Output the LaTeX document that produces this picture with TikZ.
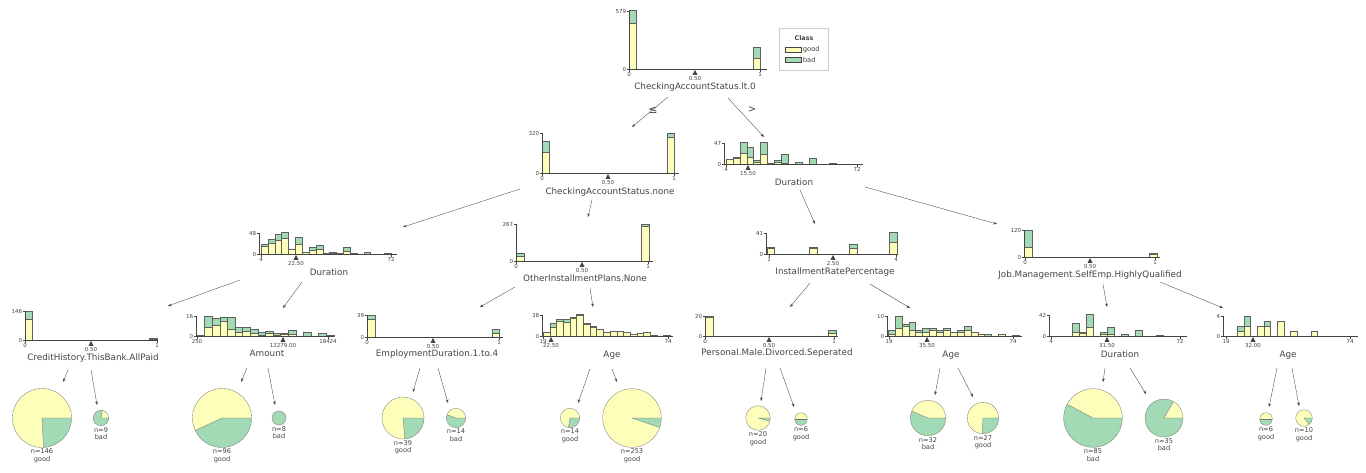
\documentclass[tikz,border=0pt]{standalone}
\usepackage{fontspec}
\setmainfont{DejaVu Sans}
\usepackage{xcolor}
\usepackage{tikz}
\usetikzlibrary{positioning, arrows.meta}

\definecolor{goodc}{HTML}{FEFEBB}
\definecolor{badc}{HTML}{A1DAB4}
\definecolor{inkc}{HTML}{444443}

% one stacked bar: x, base y, width, total height, good height
\newcommand{\histbar}[5]{%
  \fill[badc] (#1,#2) rectangle ++(#3,-#4);
  \fill[goodc] (#1,#2) rectangle ++(#3,-#5);
  \draw[baredge] (#1,#2) rectangle ++(#3,-#4);
  \draw[baredge] (#1,#2-#5) -- ++(#3,0);
}
% row of bars: x start, base y, bar width, list of total/good
\newcommand{\histrow}[4]{%
  \foreach \ntot/\ngood [count=\i from 0] in {#4} {
    \histbar{#1+\i*#3}{#2}{#3}{\ntot}{\ngood}
  }
}
% axes: name, x left, x right, base y, top y, top count
\newcommand{\histaxes}[6]{%
  \draw[axis] (#2,#5) -- (#2,#4) -- (#3,#4);
  \draw[axis] (#2,#5) -- ++(-2,0) node[tick, left] (#1-ytop) {#6};
  \draw[axis] (#2,#4) -- ++(-2,0) node[tick, left] (#1-ybot) {0};
}
% x tick: name, x, base y, text
\newcommand{\xtick}[4]{%
  \draw[axis] (#2,#3) -- ++(0,2.5) node[tick, below] (#1) {#4};
}
% split marker: name, x, base y, text
\newcommand{\splitmark}[4]{%
  \fill[inkc] (#2,#3+1) -- ++(2.5,4.8) -- ++(-5,0) -- cycle;
  \node[tick, below] (#1) at (#2,#3+6.3) {#4};
}
% leaf pie: name, x, y, radius, end angle of bad wedge, text
\newcommand{\pieleaf}[6]{%
  \node[pie, minimum size=2*#4] (#1) at (#2,#3) {};
  \fill[badc] (#1.center) -- ++(0:#4) arc[start angle=0, end angle=#5, radius=#4] -- cycle;
  \draw[pieline] (#1.center) -- ++(0:#4) (#1.center) -- ++(#5:#4);
  \draw[pieline] (#1.center) circle[radius=#4];
  \node[leaftxt, below=0.5pt of #1] (#1-txt) {#6};
}

\begin{document}
\begin{tikzpicture}[
      x=1pt, y=-1pt,
      axis/.style    = {draw=inkc, line width=0.35pt},
      baredge/.style = {draw=inkc!85, line width=0.25pt},
      tick/.style    = {font=\fontsize{5.5}{5.5}\selectfont, text=inkc, inner sep=0.8pt},
      feat/.style    = {font=\fontsize{8.8}{9.5}\selectfont, text=inkc, inner sep=1pt},
      leaftxt/.style = {font=\fontsize{6.6}{7.4}\selectfont, text=inkc, align=center, inner sep=0.5pt},
      legtxt/.style  = {font=\fontsize{6.8}{7}\selectfont, text=inkc, inner sep=0.5pt},
      pie/.style     = {circle, fill=goodc, inner sep=0pt},
      pieline/.style = {draw=inkc!75, line width=0.3pt},
      edge/.style    = {draw=inkc, line width=0.35pt, -{Stealth[length=3.6pt, width=2.6pt]}},
      >={Stealth[]}
  ]
  \useasboundingbox (0,0) rectangle (1366,472);

  % --- root: CheckingAccountStatus.lt.0 ---
  \histbar{629}{69}{7}{58.5}{46}
  \histbar{753}{69}{7}{22}{11}
  \histaxes{n0}{629}{767}{69}{11}{579}
  \xtick{n0-x0}{629}{69}{0}
  \xtick{n0-x1}{760}{69}{1}
  \splitmark{n0-s}{695}{69}{0.50}
  \node[feat] (n0) at (695,87) {CheckingAccountStatus.lt.0};
  \coordinate (n0-l) at (668,97);
  \coordinate (n0-r) at (728,98);

  % legend
  \node[draw=black!20, line width=0.3pt, minimum width=49, minimum height=42, inner sep=0pt] (legend) at (804,49.5) {};
  \node[font=\bfseries\fontsize{6.4}{6.4}\selectfont, text=inkc] (legtitle) at (804,38) {Class};
  \node[fill=goodc, draw=inkc, line width=0.3pt, minimum width=16, minimum height=5, inner sep=0pt] (legg) at (793,49.5) {};
  \node[legtxt, right=1pt of legg] (leggt) {good};
  \node[fill=badc, draw=inkc, line width=0.3pt, minimum width=16, minimum height=5, inner sep=0pt] (legb) at (793,59.5) {};
  \node[legtxt, right=1pt of legb] (legbt) {bad};

  % --- level 1: CheckingAccountStatus.none ---
  \histbar{542}{173}{7}{32}{21}
  \histbar{667}{173}{7}{40}{36}
  \histaxes{n1}{542}{679}{173}{133}{320}
  \xtick{n1-x0}{542}{173}{0}
  \xtick{n1-x1}{674}{173}{1}
  \splitmark{n1-s}{608}{173}{0.50}
  \node[feat] (n1) at (610,192) {CheckingAccountStatus.none};
  \coordinate (n1-in) at (632,127);
  \coordinate (n1-l) at (520,189);
  \coordinate (n1-r) at (592,200);

  % --- level 1: Duration ---
  \histrow{726}{164}{6.9}{5/4.5, 6.7/6, 22/11, 17/6.7, 3.7/2, 22/10, 1/1, 3.7/1.7, 10/0.7, 0/0, 2/0, 0/0, 6/0, 0/0, 0/0, 0.7/0}
  \histaxes{n2}{724}{863}{164}{143}{47}
  \xtick{n2-x0}{726}{164}{4}
  \xtick{n2-x1}{857}{164}{72}
  \splitmark{n2-s}{748}{164}{15.50}
  \node[feat] (n2) at (794,182) {Duration};
  \coordinate (n2-in) at (764,137);
  \coordinate (n2-l) at (800,190);
  \coordinate (n2-r) at (865,187);

  % --- level 2: Duration ---
  \histrow{261}{254}{6.85}{10/7.7, 15/11, 20/13.7, 22/16, 5.3/5, 17/10, 2/1.5, 7/4.3, 9/5.3, 1.3/1, 2.3/1.3, 1.3/0.5, 7/3.3, 1/0.5, 0/0, 2.3/0.3, 0/0, 0/0, 1/0.5}
  \histaxes{n3}{259}{397}{254}{233}{48}
  \xtick{n3-x0}{261}{254}{4}
  \xtick{n3-x1}{391}{254}{72}
  \splitmark{n3-s}{296}{254}{22.50}
  \node[feat] (n3) at (329,272) {Duration};
  \coordinate (n3-in) at (403,227);
  \coordinate (n3-l) at (240,280);
  \coordinate (n3-r) at (302,282);

  % --- level 2: OtherInstallmentPlans.None ---
  \histbar{516}{261}{8}{8}{5}
  \histbar{641}{261}{8}{37}{35}
  \histaxes{n4}{516}{653}{261}{224}{267}
  \xtick{n4-x0}{516}{261}{0}
  \xtick{n4-x1}{648}{261}{1}
  \splitmark{n4-s}{582}{261}{0.50}
  \node[feat] (n4) at (585,278) {OtherInstallmentPlans.None};
  \coordinate (n4-in) at (588,217);
  \coordinate (n4-l) at (515,287);
  \coordinate (n4-r) at (590,288);

  % --- level 2: InstallmentRatePercentage ---
  \histbar{767}{254}{7}{7}{6}
  \histbar{809}{254}{8}{7}{6}
  \histbar{849}{254}{8}{10}{6}
  \histbar{889}{254}{8}{22}{12}
  \histaxes{n5}{766}{898}{254}{233}{41}
  \xtick{n5-x0}{769}{254}{1}
  \xtick{n5-x1}{896}{254}{4}
  \splitmark{n5-s}{833}{254}{2.50}
  \node[feat] (n5) at (835,272) {InstallmentRatePercentage};
  \coordinate (n5-in) at (815,224);
  \coordinate (n5-l) at (810,283);
  \coordinate (n5-r) at (870,284);

  % --- level 2: Job.Management.SelfEmp.HighlyQualified ---
  \histbar{1024}{257}{8}{27}{10}
  \histbar{1149}{257}{8}{4}{3}
  \histaxes{n6}{1024}{1160}{257}{230}{120}
  \xtick{n6-x0}{1025}{257}{0}
  \xtick{n6-x1}{1155}{257}{1}
  \splitmark{n6-s}{1090}{257}{0.50}
  \node[feat] (n6) at (1090,275) {Job.Management.SelfEmp.HighlyQualified};
  \coordinate (n6-in) at (997,224);
  \coordinate (n6-l) at (1103,284);
  \coordinate (n6-r) at (1160,282);

  % --- level 3: CreditHistory.ThisBank.AllPaid ---
  \histbar{25}{340}{7}{29}{21}
  \histbar{149}{340}{8}{2}{1}
  \histaxes{n7}{25}{158}{340}{311}{146}
  \xtick{n7-x0}{25}{340}{0}
  \xtick{n7-x1}{157}{340}{1}
  \splitmark{n7-s}{91}{340}{0.50}
  \node[feat] (n7) at (93,358) {CreditHistory.ThisBank.AllPaid};
  \coordinate (n7-in) at (168,306);
  \coordinate (n7-l) at (68,370);
  \coordinate (n7-r) at (91,370);

  % --- level 3: Amount ---
  \histrow{197}{336}{7.6}{1.3/1, 20/9.3, 18.3/11, 18.7/15.3, 18.7/7, 9.3/4.3, 8.7/5, 7/3.3, 3.7/1.3, 4.7/2.7, 2.7/1, 3.3/1.7, 5.7/2.3, 0/0, 4/0, 0/0, 3/0, 1.3/0.5}
  \histaxes{n8}{196}{333}{336}{316}{16}
  \xtick{n8-x0}{197}{336}{250}
  \xtick{n8-x1}{328}{336}{18424}
  \splitmark{n8-s}{283}{336}{12279.00}
  \node[feat] (n8) at (267,353) {Amount};
  \coordinate (n8-in) at (283,308);
  \coordinate (n8-l) at (247,368);
  \coordinate (n8-r) at (268,368);

  % --- level 3: EmploymentDuration.1.to.4 ---
  \histbar{367}{337}{8}{22}{18}
  \histbar{492}{337}{7}{8}{4}
  \histaxes{n9}{367}{503}{337}{315}{39}
  \xtick{n9-x0}{367}{337}{0}
  \xtick{n9-x1}{499}{337}{1}
  \splitmark{n9-s}{433}{337}{0.50}
  \node[feat] (n9) at (437,354) {EmploymentDuration.1.to.4};
  \coordinate (n9-in) at (480,307);
  \coordinate (n9-l) at (420,368);
  \coordinate (n9-r) at (438,368);

  % --- level 3: Age ---
  \histrow{543}{336}{6.7}{4.3/4, 12.7/9.3, 16.7/15.3, 16.7/14.3, 18.7/17.7, 21.7/21, 12.7/12.2, 10/9.3, 7.3/7, 4.3/4, 5.3/5, 5.3/5, 3.7/3.5, 2/2, 3/3, 3.7/3.5, 0.7/0.7, 0/0, 0.7/0.7}
  \histaxes{n10}{542}{673}{336}{315}{38}
  \xtick{n10-x0}{543}{336}{19}
  \xtick{n10-x1}{668}{336}{74}
  \splitmark{n10-s}{551}{336}{22.50}
  \node[feat] (n10) at (612,355) {Age};
  \coordinate (n10-in) at (593,307);
  \coordinate (n10-l) at (590,369);
  \coordinate (n10-r) at (612,369);

  % --- level 3: Personal.Male.Divorced.Seperated ---
  \histbar{705}{336}{8}{20}{19}
  \histbar{828}{336}{8}{6}{3}
  \histaxes{n11}{705}{838}{336}{316}{20}
  \xtick{n11-x0}{705}{336}{0}
  \xtick{n11-x1}{834}{336}{1}
  \splitmark{n11-s}{769}{336}{0.50}
  \node[feat] (n11) at (777,353) {Personal.Male.Divorced.Seperated};
  \coordinate (n11-in) at (790,307);
  \coordinate (n11-l) at (766,368);
  \coordinate (n11-r) at (780,368);

  % --- level 3: Age ---
  \histrow{888}{336}{6.9}{5.7/1.7, 20/7.7, 11.7/10, 13.7/5.7, 5.7/4.3, 7.7/3.7, 7.7/5.7, 5.7/3.7, 7.7/5.7, 3.7/3.7, 5.7/3.7, 9.7/5.7, 3.7/3.7, 1.7/1.7, 2/0, 0/0, 1.7/1.7, 0/0, 0.7/0.7}
  \histaxes{n12}{887}{1022}{336}{316}{10}
  \xtick{n12-x0}{889}{336}{19}
  \xtick{n12-x1}{1013}{336}{74}
  \splitmark{n12-s}{927}{336}{35.50}
  \node[feat] (n12) at (951,355) {Age};
  \coordinate (n12-in) at (910,308);
  \coordinate (n12-l) at (940,368);
  \coordinate (n12-r) at (958,368);

  % --- level 3: Duration ---
  \histrow{1072}{336}{7}{12.7/3.7, 4.3/2.7, 21.7/9.3, 0/0, 3.7/2.3, 8.7/1.7, 0/0, 1.7/0, 0/0, 5.7/0, 0/0, 0/0, 0.5/0.3}
  \histaxes{n13}{1049}{1187}{336}{315}{42}
  \xtick{n13-x0}{1051}{336}{4}
  \xtick{n13-x1}{1180}{336}{72}
  \splitmark{n13-s}{1107}{336}{31.50}
  \node[feat] (n13) at (1120,354) {Duration};
  \coordinate (n13-in) at (1107,307);
  \coordinate (n13-l) at (1105,368);
  \coordinate (n13-r) at (1130,368);

  % --- level 3: Age ---
  \histrow{1237}{336}{6.7}{10.2/5.1, 20.3/10.2, 0/0, 10.2/10.2, 15.2/10.2, 0/0, 15.2/15.2, 0/0, 5.1/5.1, 0/0, 0/0, 5.1/5.1}
  \histaxes{n14}{1223}{1358}{336}{316}{4}
  \xtick{n14-x0}{1226}{336}{19}
  \xtick{n14-x1}{1350}{336}{74}
  \splitmark{n14-s}{1253}{336}{32.00}
  \node[feat] (n14) at (1288,355) {Age};
  \coordinate (n14-in) at (1223,308);
  \coordinate (n14-l) at (1277,368);
  \coordinate (n14-r) at (1292,368);

  % --- leaves ---
  \pieleaf{p1}{42}{418}{29.5}{87}{n=146\\good}
  \pieleaf{p2}{101}{418}{7.7}{280}{n=9\\bad}
  \pieleaf{p3}{222}{418}{29.5}{155}{n=96\\good}
  \node[pie, fill=badc, draw=inkc!75, line width=0.3pt, minimum size=14] (p4) at (279,418) {};
  \node[leaftxt, below=0.5pt of p4] (p4-txt) {n=8\\bad};
  \pieleaf{p5}{403}{418}{21}{85}{n=39\\good}
  \pieleaf{p6}{456}{418}{9.7}{200}{n=14\\bad}
  \pieleaf{p7}{570}{418}{9.7}{100}{n=14\\good}
  \pieleaf{p8}{632}{418}{29.3}{19}{n=253\\good}
  \pieleaf{p9}{758}{418}{12.3}{15}{n=20\\good}
  \pieleaf{p10}{801}{419}{6.3}{180}{n=6\\good}
  \pieleaf{p11}{928}{418}{17.7}{203}{n=32\\bad}
  \pieleaf{p12}{983}{418}{15.7}{93}{n=27\\good}
  \pieleaf{p13}{1093}{418}{29.3}{208}{n=85\\bad}
  \pieleaf{p14}{1164}{418}{19}{300}{n=35\\bad}
  \pieleaf{p15}{1266}{419}{6.3}{180}{n=6\\good}
  \pieleaf{p16}{1304}{418}{8.3}{50}{n=10\\good}

  \coordinate (p1-in) at (63,382);   \coordinate (p2-in) at (97,405);
  \coordinate (p3-in) at (241,382);  \coordinate (p4-in) at (275,405);
  \coordinate (p5-in) at (413,392);  \coordinate (p6-in) at (448,403);
  \coordinate (p7-in) at (578,403);  \coordinate (p8-in) at (617,382);
  \coordinate (p9-in) at (761,401);  \coordinate (p10-in) at (794,407);
  \coordinate (p11-in) at (935,395); \coordinate (p12-in) at (973,397);
  \coordinate (p13-in) at (1103,382); \coordinate (p14-in) at (1146,394);
  \coordinate (p15-in) at (1269,407); \coordinate (p16-in) at (1299,406);

  % --- edges ---
  \draw[edge] (n0-l) -- (n1-in);
  \draw[edge] (n0-r) -- (n2-in);
  \node[font=\fontsize{11}{11}\selectfont, text=inkc] (le) at (653,110) {≤};
  \node[font=\fontsize{10}{10}\selectfont, text=inkc] (gt) at (752,110) {>};
  \draw[edge] (n1-l) -- (n3-in);
  \draw[edge] (n1-r) -- (n4-in);
  \draw[edge] (n2-l) -- (n5-in);
  \draw[edge] (n2-r) -- (n6-in);
  \draw[edge] (n3-l) -- (n7-in);
  \draw[edge] (n3-r) -- (n8-in);
  \draw[edge] (n4-l) -- (n9-in);
  \draw[edge] (n4-r) -- (n10-in);
  \draw[edge] (n5-l) -- (n11-in);
  \draw[edge] (n5-r) -- (n12-in);
  \draw[edge] (n6-l) -- (n13-in);
  \draw[edge] (n6-r) -- (n14-in);
  \draw[edge] (n7-l) -- (p1-in);
  \draw[edge] (n7-r) -- (p2-in);
  \draw[edge] (n8-l) -- (p3-in);
  \draw[edge] (n8-r) -- (p4-in);
  \draw[edge] (n9-l) -- (p5-in);
  \draw[edge] (n9-r) -- (p6-in);
  \draw[edge] (n10-l) -- (p7-in);
  \draw[edge] (n10-r) -- (p8-in);
  \draw[edge] (n11-l) -- (p9-in);
  \draw[edge] (n11-r) -- (p10-in);
  \draw[edge] (n12-l) -- (p11-in);
  \draw[edge] (n12-r) -- (p12-in);
  \draw[edge] (n13-l) -- (p13-in);
  \draw[edge] (n13-r) -- (p14-in);
  \draw[edge] (n14-l) -- (p15-in);
  \draw[edge] (n14-r) -- (p16-in);

\end{tikzpicture}
\end{document}
